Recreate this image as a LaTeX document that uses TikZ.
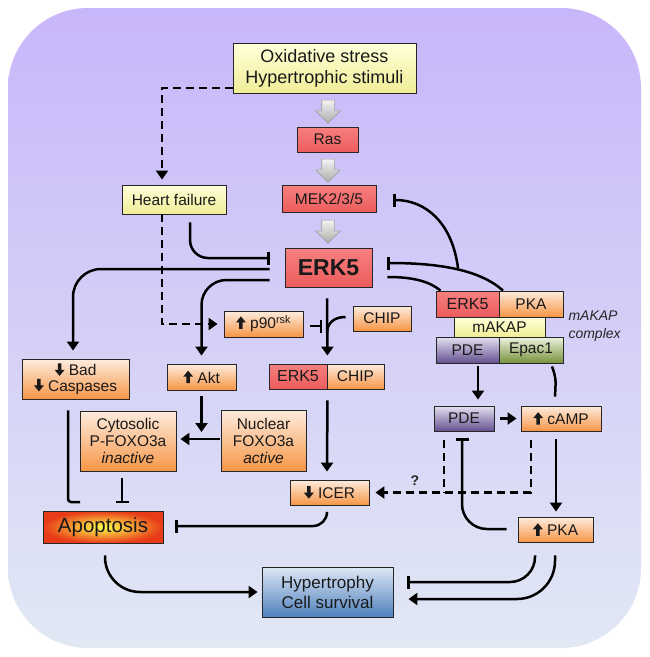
\documentclass[tikz,border=0pt]{standalone}
\usepackage{fontspec}
\setmainfont{Liberation Sans}
\usetikzlibrary{arrows.meta,shapes.arrows,shadows,calc}
\newcommand{\uparr}{\tikz[baseline=0pt]\fill[black!90] (-1.7pt,0pt) -- (-1.7pt,6.5pt) -- (-5pt,6.5pt) -- (0pt,12.5pt) -- (5pt,6.5pt) -- (1.7pt,6.5pt) -- (1.7pt,0pt) -- cycle;}
\newcommand{\dnarr}{\tikz[baseline=0pt]\fill[black!90] (-1.7pt,12.5pt) -- (-1.7pt,6pt) -- (-5pt,6pt) -- (0pt,0pt) -- (5pt,6pt) -- (1.7pt,6pt) -- (1.7pt,12.5pt) -- cycle;}
\definecolor{ytop}{RGB}{255,255,218}
\definecolor{ybot}{RGB}{240,238,150}
\definecolor{rtop}{RGB}{247,128,128}
\definecolor{rbot}{RGB}{236,92,92}
\definecolor{otop}{RGB}{253,236,222}
\definecolor{obot}{RGB}{247,150,70}
\definecolor{ptop}{RGB}{228,224,240}
\definecolor{pbot}{RGB}{100,80,145}
\definecolor{gtop}{RGB}{236,242,224}
\definecolor{gbot}{RGB}{119,147,60}
\definecolor{btop}{RGB}{222,232,245}
\definecolor{bbot}{RGB}{79,129,189}
\definecolor{bgtop}{RGB}{200,182,250}
\definecolor{bgmid}{RGB}{196,198,242}
\definecolor{bgbot}{RGB}{225,232,244}
\tikzset{
  box/.style={draw=black!85, line width=0.9pt, inner sep=0pt, align=center, text=black!90,
    font=\fontsize{15.5}{17}\selectfont,
    drop shadow={opacity=0.25,shadow xshift=1.3pt,shadow yshift=-1.3pt}},
  ybox/.style={box, top color=ytop, bottom color=ybot},
  rbox/.style={box, top color=rtop, bottom color=rbot},
  obox/.style={box, top color=otop, bottom color=obot},
  pbox/.style={box, top color=ptop, bottom color=pbot},
  gbox/.style={box, top color=gtop, bottom color=gbot},
  bbox/.style={box, top color=btop, bottom color=bbot},
  apobox/.style={box, inner color=yellow!70!white, outer color={rgb,255:red,232;green,60;blue,25}},
  garrow/.style={single arrow, shape border rotate=270, draw=gray!75, line width=0.6pt,
    top color=gray!10, bottom color=gray!65, minimum height=23pt, inner sep=6pt,
    single arrow head extend=6pt, single arrow head indent=0pt},
  lnk/.style={line width=2.5pt, black},
  act/.style={lnk, -{Triangle[length=9pt,width=12pt]}},
  inh/.style={lnk, -{Bar[width=13pt]}},
  dsh/.style={dash pattern=on 8pt off 5pt},
}
\begin{document}
\begin{tikzpicture}[x=1pt,y=-1pt]
\useasboundingbox (0,0) rectangle (649,657);
\fill[white] (0,0) rectangle (649,657);
\shade[top color=bgtop, middle color=bgmid, bottom color=bgbot, rounded corners=80pt] (8,8) rectangle (641,648);

% nodes
\node[ybox, minimum width=183pt, minimum height=50pt, font=\fontsize{18}{21}\selectfont] (ox) at (324.5,68) {Oxidative stress\\Hypertrophic stimuli};
\node[rbox, minimum width=61pt, minimum height=25pt] (ras) at (327.5,139.5) {Ras};
\node[rbox, minimum width=94pt, minimum height=27pt] (mek) at (329,198.5) {MEK2/3/5};
\node[rbox, minimum width=87pt, minimum height=39pt, font=\fontsize{23}{26}\selectfont\bfseries] (erk) at (328.5,267.5) {ERK5};
\node[garrow] (g1) at (328,108.5) {};
\node[garrow] (g2) at (328,167.5) {};
\node[garrow] (g3) at (328,228.5) {};
\node[ybox, minimum width=104pt, minimum height=29pt] (hf) at (174,199.5) {Heart failure};
\node[obox, minimum width=79pt, minimum height=26pt] (p90) at (263.5,324) {\uparr\ p90\textsuperscript{rsk}};
\node[obox, minimum width=58pt, minimum height=25pt] (chip) at (382,318.5) {CHIP};
\node[obox, minimum width=107pt, minimum height=40pt, font=\fontsize{15.5}{15.5}\selectfont] (bad) at (75.5,379) {\dnarr\ Bad\\\dnarr\ Caspases};
\node[obox, minimum width=69pt, minimum height=26pt] (akt) at (201.5,377) {\uparr\ Akt};
\node[rbox, minimum width=58pt, minimum height=25pt, font=\fontsize{16}{17}\selectfont] (erkA) at (298,376.5) {ERK5};
\node[obox, minimum width=57pt, minimum height=25pt] (chipA) at (355.5,376.5) {CHIP};
% mAKAP complex
\node[rbox, minimum width=63pt, minimum height=26pt, font=\fontsize{16}{17}\selectfont] (erkc) at (467.5,304) {ERK5};
\node[obox, minimum width=64pt, minimum height=26pt] (pkac) at (531,304) {PKA};
\node[ybox, minimum width=91pt, minimum height=20pt] (makap) at (499.5,327) {mAKAP};
\node[pbox, minimum width=63pt, minimum height=26pt] (pdec) at (467.5,350) {PDE};
\node[gbox, minimum width=64pt, minimum height=26pt] (epac) at (531,350) {Epac1};
\node[anchor=west, align=left, font=\fontsize{14}{18}\selectfont\itshape, text=black!85] (mlab) at (565,326) {mAKAP\\complex};
%
\node[obox, minimum width=96pt, minimum height=60pt] (cyto) at (128,441) {Cytosolic\\P-FOXO3a\\\textit{inactive}};
\node[obox, minimum width=85pt, minimum height=61pt] (nuc) at (263.5,440.5) {Nuclear\\FOXO3a\\\textit{active}};
\node[obox, minimum width=79pt, minimum height=25pt] (icer) at (329.5,492.5) {\dnarr\ ICER};
\node[pbox, minimum width=60pt, minimum height=25pt] (pde) at (464,418.5) {PDE};
\node[obox, minimum width=80pt, minimum height=25pt] (camp) at (561,418.5) {\uparr\ cAMP};
\node[obox, minimum width=75pt, minimum height=25pt] (pka) at (555.5,529.5) {\uparr\ PKA};
\node[apobox, minimum width=120pt, minimum height=32pt, font=\fontsize{20.5}{22}\selectfont] (apo) at (103,527) {Apoptosis};
\node[bbox, minimum width=131pt, minimum height=50pt, font=\fontsize{17}{20}\selectfont] (hyp) at (327.5,592) {Hypertrophy\\Cell survival};
\node[font=\fontsize{14}{15}\selectfont\bfseries, text=black!85] (q) at (415,481) {?};

% helper coordinates
\coordinate (j1) at (327,333);
\coordinate (b1) at (322,326);
\coordinate (j2) at (201.5,432);
\coordinate (bl) at (80,502);
\coordinate (b2) at (122,503);
\coordinate (j4) at (458,268);
\coordinate (d1) at ($(pde.south)+(-20,9)$);

% connectors
\draw[lnk,dsh,-{Triangle[length=9pt,width=12pt]}] ($(ox.west)+(0,20)$) -| ($(hf.north)+(-12,-5)$);
\draw[lnk,dsh,-{Triangle[length=9pt,width=12pt]}, shorten >=6pt] ($(hf.south)+(-12,0)$) |- (p90.west);
\draw[inh, rounded corners=18pt] ($(hf.south)+(16,8)$) |- ($(erk.west)+(-15,-9.5)$);
\draw[act, rounded corners=28pt] ($(erk.west)+(-15,1.5)$) -| ($(bad.north)+(-2.5,-8)$);
\draw[act, rounded corners=25pt] ($(erk.west)+(-15,12.5)$) -| ($(akt.north)+(0,-8)$);
\draw[act] ($(erk.south)+(-1.5,11)$) -- ($(erkA.north east)+(0,-8)$);
\draw[lnk] ($(chip.west)+(-7,-1.5)$) .. controls (333,317) and (327,324) .. (j1);
\draw[inh] ($(p90.east)+(7,2)$) -- (b1);
\draw[act] ($(erkA.south east)+(0,11)$) -- ($(icer.north)+(-2.5,-8)$);
\draw[act] ($(akt.south)+(0,6)$) -- (j2);
\draw[act] ($(nuc.west)+(-1,-1.5)$) -- ($(cyto.east)+(4,-2)$);
\draw[lnk, rounded corners=3pt] ($(bad.south)+(-7.5,11)$) |- (bl);
\draw[inh] ($(cyto.south)+(-6,7)$) -- (b2);
\draw[inh, rounded corners=14pt] ($(icer.south)+(-2.5,7)$) |- ($(apo.east)+(12,-1)$);
\draw[act, rounded corners=35pt] ($(apo.south)+(2,12)$) |- ($(hyp.west)+(-4,0)$);
\draw[inh, rounded corners=25pt] ($(pka.south)+(-20.5,13)$) |- ($(hyp.east)+(14,-10)$);
\draw[act, rounded corners=38pt] ($(pka.south)+(-0.5,13)$) |- ($(hyp.east)+(15,7)$);
\draw[act] ($(camp.south)+(-5,8)$) -- ($(pka.north)+(0.5,-5)$);
\draw[inh, rounded corners=25pt] ($(pka.west)+(-11,-0.5)$) -| ($(pde.south)+(-2,7)$);
\draw[act] ($(pde.east)+(6,0)$) -- ($(camp.west)+(-4,0)$);
\draw[lnk,dsh] (d1) -- (d1 |- icer.east);
\draw[lnk,dsh,-{Triangle[length=9pt,width=12pt]}] ($(camp.south)+(-30,9)$) |- ($(icer.east)+(6,0)$);
\draw[act] ($(pdec.south)+(10.5,3)$) -- ($(pde.north)+(14,-6)$);
\draw[lnk] ($(epac.south)+(21,3)$) .. controls (556,378) .. ($(camp.north)+(-6,-9)$);
\draw[lnk] ($(erk.east)+(15,9.5)$) .. controls (415,277) and (430,282) .. ($(erkc.north)+(-27,0)$);
\draw[inh] ($(pkac.north)+(-28,0)$) .. controls (480,270) and (440,263) .. ($(erk.east)+(15,-4.5)$);
\draw[inh] (j4) .. controls (452,222) and (425,200) .. ($(mek.east)+(17,1.5)$);
\end{tikzpicture}
\end{document}
